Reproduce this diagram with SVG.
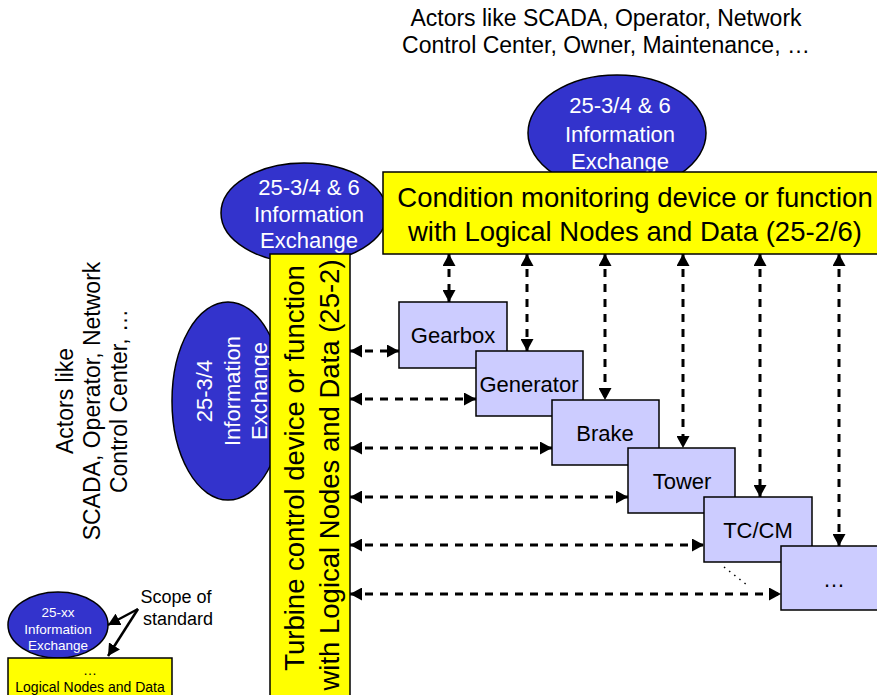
<svg xmlns="http://www.w3.org/2000/svg" width="877" height="695" viewBox="0 0 877 695">
<defs>
<style>
text{font-family:"Liberation Sans",Arial,sans-serif;}
.ell{fill:#3333cc;stroke:#000;stroke-width:1.5;}
.ellt{fill:#fff;font-size:22px;text-anchor:middle;}
.yel{fill:#ffff00;stroke:#000;stroke-width:1.5;}
.big{fill:#000;font-size:27.5px;text-anchor:middle;}
.comp{fill:#ccccff;stroke:#000;stroke-width:1.5;}
.compt{fill:#000;font-size:22px;text-anchor:middle;}
.actor{fill:#000;font-size:23px;text-anchor:middle;}
.dash{fill:none;stroke:#000;stroke-width:3;stroke-dasharray:8 7;marker-start:url(#ah);marker-end:url(#ah);}
.solid{fill:none;stroke:#000;stroke-width:2.5;marker-end:url(#ah);}
</style>
<marker id="ah" viewBox="0 0 12 13" refX="12" refY="6.5" markerWidth="12" markerHeight="13" markerUnits="userSpaceOnUse" orient="auto-start-reverse">
<path d="M0,0 L12,6.5 L0,13 z" fill="#000"/>
</marker>
</defs>
<rect width="877" height="695" fill="#fff"/>

<g id="actors-top">
<text class="actor" x="606" y="26">Actors like SCADA, Operator, Network</text>
<text class="actor" x="606" y="53">Control Center, Owner, Maintenance, …</text>
</g>

<g id="actors-left">
<text class="actor" transform="translate(73,401) rotate(-90)">Actors like</text>
<text class="actor" transform="translate(100,401) rotate(-90)">SCADA, Operator, Network</text>
<text class="actor" transform="translate(127,401) rotate(-90)">Control Center, …</text>
</g>

<g id="ie-cm">
<ellipse class="ell" cx="617" cy="133" rx="89" ry="58"/>
<text class="ellt" x="620" y="113">25-3/4 &amp; 6</text>
<text class="ellt" x="620" y="142">Information</text>
<text class="ellt" x="620" y="169">Exchange</text>
</g>

<g id="ie-tc">
<ellipse class="ell" cx="304" cy="213" rx="83" ry="50"/>
<text class="ellt" x="309" y="195">25-3/4 &amp; 6</text>
<text class="ellt" x="309" y="222">Information</text>
<text class="ellt" x="309" y="248">Exchange</text>
</g>

<g id="ie-34">
<ellipse class="ell" cx="228" cy="401" rx="56" ry="99"/>
<text class="ellt" transform="translate(212,391) rotate(-90)">25-3/4</text>
<text class="ellt" transform="translate(240,391) rotate(-90)">Information</text>
<text class="ellt" transform="translate(267,391) rotate(-90)">Exchange</text>
</g>

<g id="cm-device">
<rect class="yel" x="383" y="172" width="500" height="82"/>
<text class="big" x="635" y="207">Condition monitoring device or function</text>
<text class="big" x="635" y="241">with Logical Nodes and Data (25-2/6)</text>
</g>

<g id="tc-device">
<rect class="yel" x="270" y="254" width="80" height="450"/>
<text class="big" transform="translate(304,468) rotate(-90)">Turbine control device or function</text>
<text class="big" transform="translate(339,475) rotate(-90)">with Logical Nodes and Data (25-2)</text>
</g>

<g id="gearbox">
<rect class="comp" x="399" y="302" width="108" height="66"/>
<text class="compt" x="453" y="343">Gearbox</text>
</g>
<g id="generator">
<rect class="comp" x="476" y="351" width="107" height="65"/>
<text class="compt" x="529" y="392">Generator</text>
</g>
<g id="brake">
<rect class="comp" x="552" y="400" width="107" height="65"/>
<text class="compt" x="605" y="441">Brake</text>
</g>
<g id="tower">
<rect class="comp" x="628" y="448" width="107" height="65"/>
<text class="compt" x="682" y="489">Tower</text>
</g>
<g id="tccm">
<rect class="comp" x="704" y="497" width="108" height="65"/>
<text class="compt" x="758" y="538">TC/CM</text>
</g>
<g id="more">
<rect class="comp" x="781" y="546" width="110" height="64"/>
<text class="compt" x="834" y="587">…</text>
</g>

<g id="legend-ie">
<ellipse class="ell" cx="58" cy="625" rx="50" ry="33"/>
<text fill="#fff" font-size="13.5" text-anchor="middle" x="58" y="617">25-xx</text>
<text fill="#fff" font-size="13.5" text-anchor="middle" x="58" y="634">Information</text>
<text fill="#fff" font-size="13.5" text-anchor="middle" x="58" y="650">Exchange</text>
</g>
<g id="legend-ln">
<rect class="yel" x="8" y="658" width="164" height="45"/>
<text fill="#000" font-size="14" text-anchor="middle" x="90" y="675">…</text>
<text fill="#000" font-size="14" text-anchor="middle" x="90" y="692">Logical Nodes and Data</text>
</g>
<g id="legend-scope">
<text fill="#000" font-size="18" text-anchor="middle" x="176" y="603">Scope of</text>
<text fill="#000" font-size="18" text-anchor="middle" x="178" y="625">standard</text>
</g>

<g id="connectors">
<path class="dash" d="M449,254 V302"/>
<path class="dash" d="M527,254 V351"/>
<path class="dash" d="M605,254 V400"/>
<path class="dash" d="M683,254 V448"/>
<path class="dash" d="M760,254 V497"/>
<path class="dash" d="M839,254 V546"/>
<path class="dash" d="M350,351 H399"/>
<path class="dash" d="M350,399 H476"/>
<path class="dash" d="M350,448 H552"/>
<path class="dash" d="M350,497 H628"/>
<path class="dash" d="M350,545 H704"/>
<path class="dash" d="M350,594 H781"/>
<path d="M724,567 L747,585" fill="none" stroke="#000" stroke-width="1.5" stroke-dasharray="1.5 5"/>
<path class="solid" d="M138,609 L108,625"/>
<path class="solid" d="M138,609 L108,656"/>
</g>
</svg>
